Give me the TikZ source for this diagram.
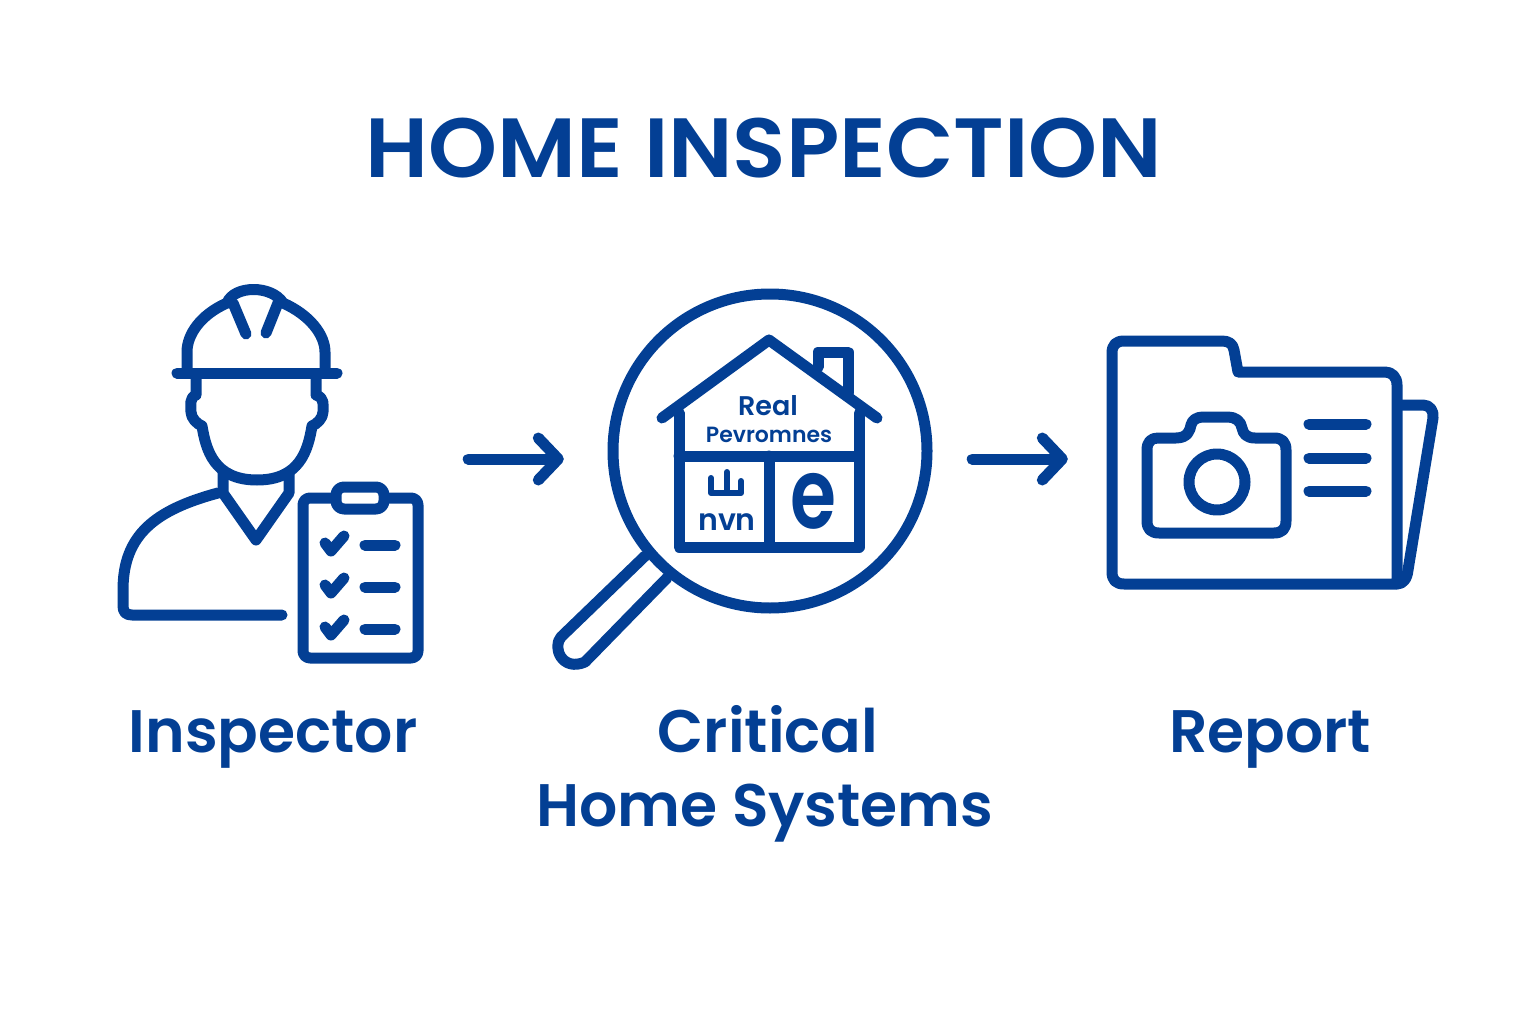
\documentclass[tikz,border=0pt]{standalone}
\usepackage{fontspec}
\usetikzlibrary{arrows.meta}
\setmainfont{Poppins SemiBold}
\definecolor{inkblue}{HTML}{033F94}

\tikzstyle{iconline}=[draw=inkblue, line width=11pt, line cap=round, line join=round]
\tikzstyle{thinline}=[draw=inkblue, line width=6pt, line cap=round, line join=round]
\tikzstyle{iconbox}=[minimum height=10pt, inner sep=0pt]
\tikzstyle{connector}=[draw=inkblue, line width=11pt, line cap=round, -{Straight Barb[length=20pt,width=42pt,round]}]
\tikzstyle{title}=[text=inkblue, anchor=base, inner sep=0pt, font=\fontsize{84}{90}\selectfont]
\tikzstyle{caption}=[text=inkblue, anchor=base, inner sep=0pt, font=\fontsize{60}{66}\selectfont]
\tikzstyle{scribble}=[text=inkblue, anchor=base, inner sep=0pt]

\begin{document}
\begin{tikzpicture}[x=1pt, y=-1pt]
\useasboundingbox (0,0) rectangle (1536,1024);

\node[title](heading) at (764,178) {\scalebox{1.045}[1]{HOME INSPECTION}};

\node[iconbox,minimum width=305pt](inspector) at (270.5,459) {};
\node[iconbox,minimum width=324pt](critical) at (770,459) {};
\node[iconbox,minimum width=330pt](report) at (1272,459) {};

% inspector
\draw[iconline] (187,370) -- (187,352) .. controls (187,335) and (200,315) .. (227,303) .. controls (234,285) and (272,285) .. (283,303) .. controls (310,315) and (325,335) .. (325,352) -- (325,370);
\draw[iconline] (177,373) -- (337,373);
\draw[iconline] (233,303) -- (246,334);
\draw[iconline] (278,303) -- (266,333);
\draw[iconline] (196,378) -- (196,395) .. controls (189,398) and (191,405) .. (191,412) .. controls (191,418) and (197,424) .. (202,426) .. controls (206,450) and (214,480) .. (257,480) .. controls (300,480) and (308,450) .. (312,426) .. controls (317,424) and (323,418) .. (323,412) .. controls (323,405) and (325,398) .. (316,395) -- (316,378);
\draw[iconline] (223,473) -- (223,493) -- (256,540) -- (289,493) -- (289,472);
\draw[iconline] (282,615) -- (132,615) .. controls (126,615) and (123,612) .. (123,606) -- (123,590) .. controls (123,535) and (155,510) .. (218,493);
\draw[iconline,rounded corners=7pt] (303,498) rectangle (418,658);
\draw[iconline,fill=white,rounded corners=8pt] (336,487) rectangle (384,509);
\foreach \row in {0,42,84} {
  \draw[iconline] (325,543+\row) -- (331,551+\row) -- (344,536+\row);
  \draw[iconline] (365,545+\row) -- (395,545+\row);
}

% magnifier
\draw[iconline] (770,451) circle (157);
\draw[iconline] (645,556) -- (561,637) .. controls (552,647) and (562,672) .. (585,662) -- (667,578);

% house
\draw[iconline] (662,418) -- (769,340) -- (877,418);
\draw[iconline] (679,413) -- (679,547) -- (859,547) -- (859,413);
\draw[iconline] (679,456) -- (859,456);
\draw[iconline] (769,456) -- (769,547);
\draw[iconline] (818,367) -- (818,352) -- (848,352) -- (848,393);
\node[scribble,font=\fontsize{27}{30}\selectfont](realword) at (768,415) {Real};
\node[scribble,font=\fontsize{22}{24}\selectfont](pevword) at (769,442) {Pevromnes};
\draw[thinline] (711,478) -- (711,493) -- (741,493) -- (741,481);
\draw[thinline] (727,472) -- (727,491);
\node[scribble,font=\fontsize{30}{32}\selectfont](nvnword) at (727,530) {nvn};
\node[scribble,font=\fontsize{98}{100}\selectfont](eword) at (813,528) {\scalebox{0.76}[1]{e}};

% report
\draw[iconline] (1397,385) .. controls (1397,377) and (1392,372) .. (1385,372) -- (1238,372) -- (1234,350) .. controls (1233,344) and (1229,341) .. (1222,341) -- (1124,341) .. controls (1116,341) and (1112,345) .. (1112,353) -- (1112,572) .. controls (1112,580) and (1116,584) .. (1124,584) -- (1397,584) -- cycle;
\draw[iconline] (1402,405) -- (1423,405) .. controls (1430,405) and (1434,411) .. (1433,418) -- (1408,570) .. controls (1407,579) and (1403,584) .. (1397,584);
\draw[iconline] (1158,438) -- (1176,438) .. controls (1188,438) and (1190,430) .. (1191,425) .. controls (1192,420) and (1197,417) .. (1203,417) -- (1228,417) .. controls (1235,417) and (1241,421) .. (1242,428) .. controls (1243,434) and (1247,438) .. (1255,438) -- (1274,438) .. controls (1282,438) and (1286,442) .. (1286,450) -- (1286,521) .. controls (1286,529) and (1282,533) .. (1274,533) -- (1159,533) .. controls (1151,533) and (1147,529) .. (1147,521) -- (1147,450) .. controls (1147,442) and (1151,438) .. (1158,438) -- cycle;
\draw[iconline] (1217,482) circle (28);
\foreach \liney in {424,458,491} {
  \draw[iconline] (1309,\liney) -- (1366,\liney);
}

\draw[connector,shorten <=45pt,shorten >=44pt] (inspector) -- (critical);
\draw[connector,shorten <=40pt,shorten >=39pt] (critical) -- (report);

\node[caption](inspectorlabel) at (273,752) {Inspector};
\node[caption](criticallabel) at (768,752) {Critical};
\node[caption](systemslabel) at (765,826) {Home Systems};
\node[caption](reportlabel) at (1270,752) {Report};
\end{tikzpicture}
\end{document}
